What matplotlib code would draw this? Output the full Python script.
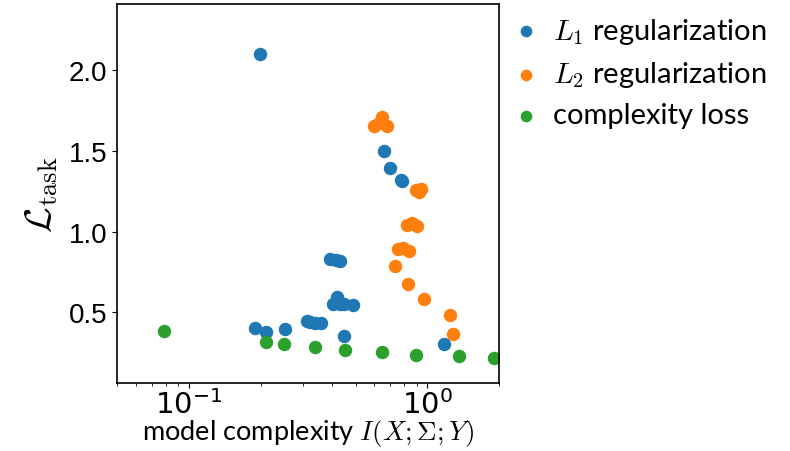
import matplotlib
matplotlib.use('Agg')
import matplotlib.pyplot as plt

# L1 regularization runs
l1_x = [0.198, 0.657, 0.697, 0.778, 0.785, 0.392, 0.414, 0.432,
        0.416, 0.402, 0.432, 0.447, 0.488, 0.189, 0.210, 0.253,
        0.313, 0.323, 0.339, 0.358, 0.447, 1.174]
l1_y = [2.10, 1.498, 1.394, 1.320, 1.310, 0.827, 0.823, 0.817,
        0.596, 0.552, 0.548, 0.550, 0.542, 0.405, 0.378, 0.393,
        0.448, 0.437, 0.434, 0.434, 0.355, 0.305]

# L2 regularization runs
l2_x = [0.597, 0.627, 0.647, 0.675, 0.893, 0.937, 0.920, 0.824,
        0.865, 0.908, 0.753, 0.793, 0.837, 0.729, 0.832, 0.968,
        1.245, 1.282]
l2_y = [1.652, 1.670, 1.707, 1.652, 1.258, 1.266, 1.245, 1.039,
        1.051, 1.034, 0.894, 0.900, 0.879, 0.786, 0.672, 0.583,
        0.480, 0.366]

# complexity loss runs
cl_x = [0.0787, 0.211, 0.251, 0.339, 0.453, 0.643, 0.899, 1.359, 1.895]
cl_y = [0.382, 0.316, 0.305, 0.283, 0.264, 0.252, 0.237, 0.227, 0.214]


def main():
    plt.rcParams['mathtext.fontset'] = 'cm'
    label_font = ['Lato', 'DejaVu Sans']

    fig = plt.figure(figsize=(7.9, 4.52), dpi=100)
    ax = fig.add_axes([0.148, 0.150, 0.484, 0.839])

    ax.scatter(l1_x, l1_y, s=75, color='#1f77b4', label='$L_1$ regularization')
    ax.scatter(l2_x, l2_y, s=75, color='#ff7f0e', label='$L_2$ regularization')
    ax.scatter(cl_x, cl_y, s=75, color='#2ca02c', label='complexity loss')

    ax.set_xscale('log')
    ax.set_xlim(0.05, 2.0)
    ax.set_ylim(0.06, 2.41)
    ax.set_yticks([0.5, 1.0, 1.5, 2.0])

    for lab in ax.get_yticklabels():
        lab.set_family('Liberation Sans')
    ax.tick_params(axis='y', labelsize=20)
    ax.tick_params(axis='x', labelsize=21, pad=1)
    for sp in ax.spines.values():
        sp.set_linewidth(1.2)

    ax.set_xlabel('model complexity $I(X;\\Sigma;Y)$', fontsize=19.5,
                  family=label_font, labelpad=-2)
    ax.set_ylabel('$\\mathcal{L}_{\\mathrm{task}}$', fontsize=27, labelpad=6)

    # Legend outside, no frame
    ax.legend(loc='upper left', bbox_to_anchor=(1.031, 0.968), frameon=False,
              prop={'family': label_font, 'size': 21},
              borderaxespad=0, borderpad=0, handlelength=1.0,
              handletextpad=0.45, labelspacing=0.45, markerscale=0.85)

    fig.savefig('out.png', dpi=100)
    plt.close()


if __name__ == "__main__":
    main()
